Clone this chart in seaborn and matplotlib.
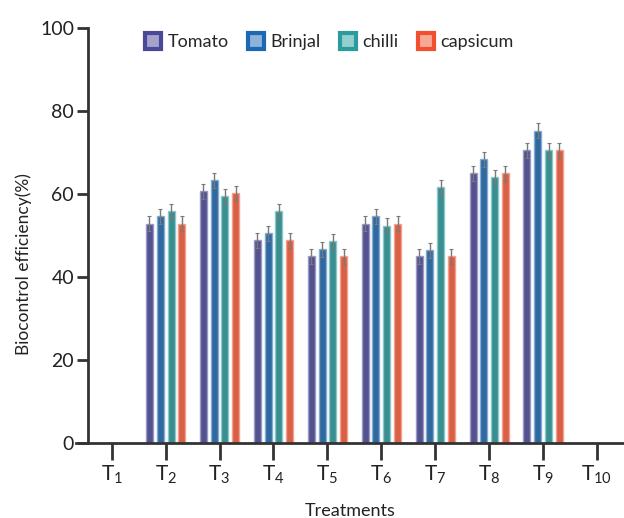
import numpy as np
import pandas as pd
import seaborn as sns
import matplotlib.pyplot as plt
from matplotlib.lines import Line2D
from matplotlib.colors import to_rgb

# --- data ---
treatments = ["T1", "T2", "T3", "T4", "T5", "T6", "T7", "T8", "T9", "T10"]
tick_labels = [r"$\mathregular{T_{%d}}$" % i for i in range(1, 11)]
crops = ["Tomato", "Brinjal", "chilli", "capsicum"]
measured = ["T2", "T3", "T4", "T5", "T6", "T7", "T8", "T9"]
tomato = [52.8, 60.6, 48.8, 45.0, 52.8, 45.0, 65.0, 70.5]
brinjal = [54.6, 63.3, 50.5, 46.7, 54.6, 46.4, 68.4, 75.2]
chilli = [55.8, 59.4, 55.8, 48.6, 52.3, 61.6, 64.0, 70.5]
capsicum = [52.8, 60.2, 48.8, 45.0, 52.8, 45.0, 65.0, 70.5]
errors = [1.8, 1.8, 1.8, 1.8]
colors = ["#4a4898", "#1d68b3", "#2a9c9e", "#f0502f"]

rows = []
for crop, vals, err in zip(crops, [tomato, brinjal, chilli, capsicum], errors):
    for t, v in zip(measured, vals):
        rows.append({"treatment": t, "crop": crop, "value": v, "err": err})
df = pd.DataFrame(rows)

sns.set_theme(style="white")
plt.rcParams["font.family"] = ["Lato", "DejaVu Sans"]
plt.rcParams["mathtext.fontset"] = "custom"
plt.rcParams["mathtext.rm"] = "Lato"

fig = plt.figure(figsize=(6.24, 5.18), dpi=100)
ax = fig.add_axes([0.122, 0.145, 0.878, 0.801])

sns.barplot(
    data=df, x="treatment", y="value", hue="crop",
    order=treatments, hue_order=crops, palette=colors,
    errorbar=None, width=0.8, gap=0.35, ax=ax, legend=False,
)

# lighter halo on bar edges + error bars
for container, color, crop in zip(ax.containers, colors, crops):
    light = tuple(0.55 * c + 0.45 for c in to_rgb(color))
    for patch in container:
        patch.set_edgecolor(light)
        patch.set_linewidth(1.0)
        h = patch.get_height()
        if np.isnan(h):
            continue
        xc = patch.get_x() + patch.get_width() / 2
        t = treatments[int(round(xc))]
        err = df.loc[(df.crop == crop) & (df.treatment == t), "err"].iloc[0]
        ax.errorbar(xc, h, yerr=err, color="#7a7a7a", lw=1.0,
                    capsize=1.5, capthick=0.8, zorder=5)

ax.set_xlim(-0.66, 9.5)
ax.set_ylim(0, 100)
ax.set_yticks([0, 20, 40, 60, 80, 100])
ax.set_xticks(range(len(treatments)))
ax.set_xticklabels(tick_labels, fontsize=15)
ax.tick_params(axis="y", labelsize=14, length=8, width=2, color="#333333",
               direction="out", left=True, pad=2, labelcolor="#222222")
ax.tick_params(axis="x", length=12, width=2, color="#333333",
               direction="out", bottom=True, pad=3, labelcolor="#222222")

ax.spines["top"].set_visible(False)
ax.spines["right"].set_visible(False)
ax.spines["left"].set_position(("data", -0.44))
for s in ["left", "bottom"]:
    ax.spines[s].set_color("#333333")
    ax.spines[s].set_linewidth(2)

ax.set_xlabel("Treatments", fontsize=13, color="#222222", labelpad=12)
ax.set_ylabel("Biocontrol efficiency(%)", fontsize=12.5, color="#222222")
ax.yaxis.set_label_coords(-0.08, 0.43)

handles = []
for color in colors:
    light = tuple(0.5 * c + 0.5 for c in to_rgb(color))
    handles.append(Line2D([], [], marker="s", linestyle="none",
                          markersize=11, markerfacecolor=light,
                          markeredgecolor=color, markeredgewidth=3))
ax.legend(handles, crops, ncol=4, frameon=False, loc="upper left",
          bbox_to_anchor=(0.095, 1.025), fontsize=13, handletextpad=0.3,
          columnspacing=1.0, handlelength=1.0)

fig.savefig("out.png", dpi=100)
